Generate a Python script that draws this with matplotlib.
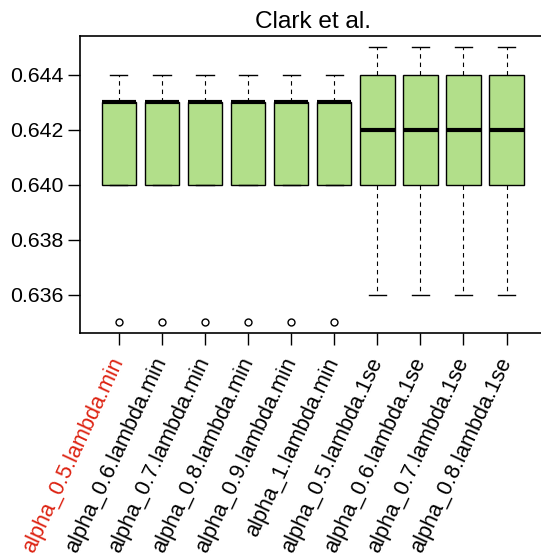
import matplotlib
matplotlib.use("Agg")
import matplotlib.pyplot as plt

plt.rcParams['font.family'] = ['Liberation Sans', 'DejaVu Sans']

labels = ["alpha_0.5.lambda.min", "alpha_0.6.lambda.min", "alpha_0.7.lambda.min",
          "alpha_0.8.lambda.min", "alpha_0.9.lambda.min", "alpha_1.lambda.min",
          "alpha_0.5.lambda.1se", "alpha_0.6.lambda.1se", "alpha_0.7.lambda.1se",
          "alpha_0.8.lambda.1se"]
whislo = [0.640] * 6 + [0.636] * 4
q1 = [0.640] * 10
med = [0.643] * 6 + [0.642] * 4
q3 = [0.643] * 6 + [0.644] * 4
whishi = [0.644] * 6 + [0.645] * 4
fliers = [[0.635]] * 6 + [[]] * 4

stats = [dict(label=l, whislo=a, q1=b, med=c, q3=d, whishi=e, fliers=f)
         for l, a, b, c, d, e, f in zip(labels, whislo, q1, med, q3, whishi, fliers)]

fig = plt.figure(figsize=(5.41, 5.56), dpi=100)
# right edge of the frame runs just past the figure border
ax = fig.add_axes([0.148, 0.401, 0.860, 0.534])

ax.bxp(stats, positions=range(1, 11), widths=0.8, patch_artist=True,
       boxprops=dict(facecolor='#b2df8a', edgecolor='black', linewidth=1.0),
       medianprops=dict(color='black', linewidth=3.0, solid_capstyle='butt'),
       whiskerprops=dict(color='black', linewidth=0.8, linestyle=(0, (4, 3.6))),
       capprops=dict(color='black', linewidth=1.0),
       flierprops=dict(marker='o', markerfacecolor='none', markeredgecolor='black',
                       markersize=5, markeredgewidth=1.0))

ax.set_xlim(0.1, 10.9)
ax.set_ylim(0.6346, 0.6454)
ax.set_yticks([0.636, 0.638, 0.640, 0.642, 0.644])
ax.set_yticklabels(["0.636", "0.638", "0.640", "0.642", "0.644"])
ax.set_xticks(range(1, 11))
ax.set_xticklabels(labels, rotation=65, ha='right', va='center',
                   rotation_mode='anchor', fontsize=15.6)
ax.get_xticklabels()[0].set_color('#dd2211')

ax.tick_params(axis='both', length=8.5, width=1.0, pad=3.5, color='black')
ax.tick_params(axis='y', labelsize=15.3)
ax.tick_params(axis='x', pad=10)
for sp in ax.spines.values():
    sp.set_linewidth(1.2)

ax.set_title("Clark et al.", fontsize=17.6, pad=6)

fig.savefig("out.png", dpi=100)
